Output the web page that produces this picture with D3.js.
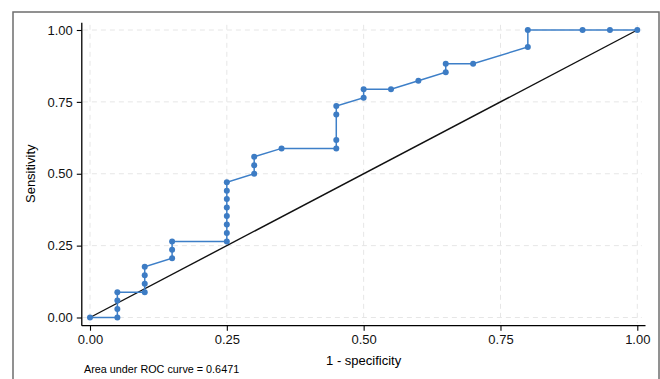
<!DOCTYPE html>
<html>
<head>
<meta charset="utf-8">
<script src="https://cdn.jsdelivr.net/npm/d3@7"></script>
<style>
  body { margin: 0; background: #fff; }
  text { font-family: "Liberation Sans", Arial, Helvetica, sans-serif; }
</style>
</head>
<body>
<div id="plot"></div>
<script>
// ROC curve points (1 - specificity, sensitivity); sensitivity steps are n/34
var fpr = [0, 0.05, 0.05, 0.05, 0.05, 0.10, 0.10, 0.10, 0.10, 0.15, 0.15, 0.15,
	0.25, 0.25, 0.25, 0.25, 0.25, 0.25, 0.25, 0.25,
	0.30, 0.30, 0.30, 0.35, 0.45, 0.45, 0.45, 0.45,
	0.50, 0.50, 0.55, 0.60, 0.65, 0.65, 0.70, 0.80, 0.80, 0.90, 0.95, 1.00];
var tpCount = [0, 0, 1, 2, 3, 3, 4, 5, 6, 7, 8, 9,
	9, 10, 11, 12, 13, 14, 15, 16,
	17, 18, 19, 20, 20, 21, 24, 25,
	26, 27, 27, 28, 29, 30, 30, 32, 34, 34, 34, 34];
var nPositive = 34;
var tickValues = [0, 0.25, 0.5, 0.75, 1];
var aucLabel = "Area under ROC curve = 0.6471";

var data = fpr.map(function (f, i) { return { x: f, y: tpCount[i] / nPositive }; });

var W = 660, H = 379;
var svg = d3.select("#plot").append("svg")
	.attr("width", W)
	.attr("height", H);

//outer frame
svg.append("rect")
	.attr("x", 13).attr("y", 12)
	.attr("width", 646).attr("height", 380)
	.attr("fill", "none")
	.attr("stroke", "#6e6e6e")
	.attr("stroke-width", 1.5);

var xScale = d3.scaleLinear().domain([0, 1]).range([90, 637.3]);
var yScale = d3.scaleLinear().domain([0, 1]).range([317.5, 30]);

//grid
var grid = svg.append("g")
	.attr("stroke", "#e6e6e6")
	.attr("stroke-width", 1)
	.attr("stroke-dasharray", "5,4");
grid.selectAll(".h").data(tickValues).enter().append("line")
	.attr("x1", xScale(-0.013)).attr("x2", xScale(1.008))
	.attr("y1", function (d) { return yScale(d); })
	.attr("y2", function (d) { return yScale(d); });
grid.selectAll(".v").data(tickValues).enter().append("line")
	.attr("y1", yScale(1.018)).attr("y2", yScale(-0.02))
	.attr("x1", function (d) { return xScale(d); })
	.attr("x2", function (d) { return xScale(d); });

//axes
var xAxis = svg.append("g")
	.attr("transform", "translate(0," + yScale(-0.0285) + ")")
	.call(d3.axisBottom(xScale).tickValues(tickValues).tickFormat(d3.format(".2f"))
		.tickSize(5).tickSizeOuter(0).tickPadding(4));
xAxis.select(".domain").remove();
xAxis.append("line")
	.attr("x1", xScale(-0.015)).attr("x2", xScale(1.015))
	.attr("stroke", "#000").attr("stroke-width", 1.3);

var yAxis = svg.append("g")
	.attr("transform", "translate(" + xScale(-0.015) + ",0)")
	.call(d3.axisLeft(yScale).tickValues(tickValues).tickFormat(d3.format(".2f"))
		.tickSize(5).tickSizeOuter(0).tickPadding(4));
yAxis.select(".domain").remove();
yAxis.append("line")
	.attr("y1", yScale(1.025)).attr("y2", yScale(-0.0285))
	.attr("stroke", "#000").attr("stroke-width", 1.3);

svg.selectAll(".tick line").attr("stroke", "#000").attr("stroke-width", 1.1);
svg.selectAll(".tick text").attr("font-size", 13).attr("fill", "#111")
	.attr("font-family", "Liberation Sans, Arial, sans-serif");

//axis titles
svg.append("text")
	.attr("x", xScale(0.5)).attr("y", 365)
	.attr("text-anchor", "middle")
	.attr("font-size", 13)
	.text("1 - specificity");

svg.append("text")
	.attr("transform", "translate(35," + yScale(0.5) + ") rotate(-90)")
	.attr("text-anchor", "middle")
	.attr("font-size", 13)
	.text("Sensitivity");

svg.append("text")
	.attr("x", 84).attr("y", 373)
	.attr("font-size", 10.8)
	.text(aucLabel);

//reference diagonal
svg.append("line")
	.attr("x1", xScale(0)).attr("y1", yScale(0))
	.attr("x2", xScale(1)).attr("y2", yScale(1))
	.attr("stroke", "#111")
	.attr("stroke-width", 1.4);

//ROC curve
var line = d3.line()
	.x(function (d) { return xScale(d.x); })
	.y(function (d) { return yScale(d.y); });

svg.append("path")
	.datum(data)
	.attr("d", line)
	.attr("fill", "none")
	.attr("stroke", "#3d7fc8")
	.attr("stroke-width", 1.5);

svg.selectAll(".pt").data(data).enter().append("circle")
	.attr("cx", function (d) { return xScale(d.x); })
	.attr("cy", function (d) { return yScale(d.y); })
	.attr("r", 3)
	.attr("fill", "#3d7cc4");
</script>
</body>
</html>
